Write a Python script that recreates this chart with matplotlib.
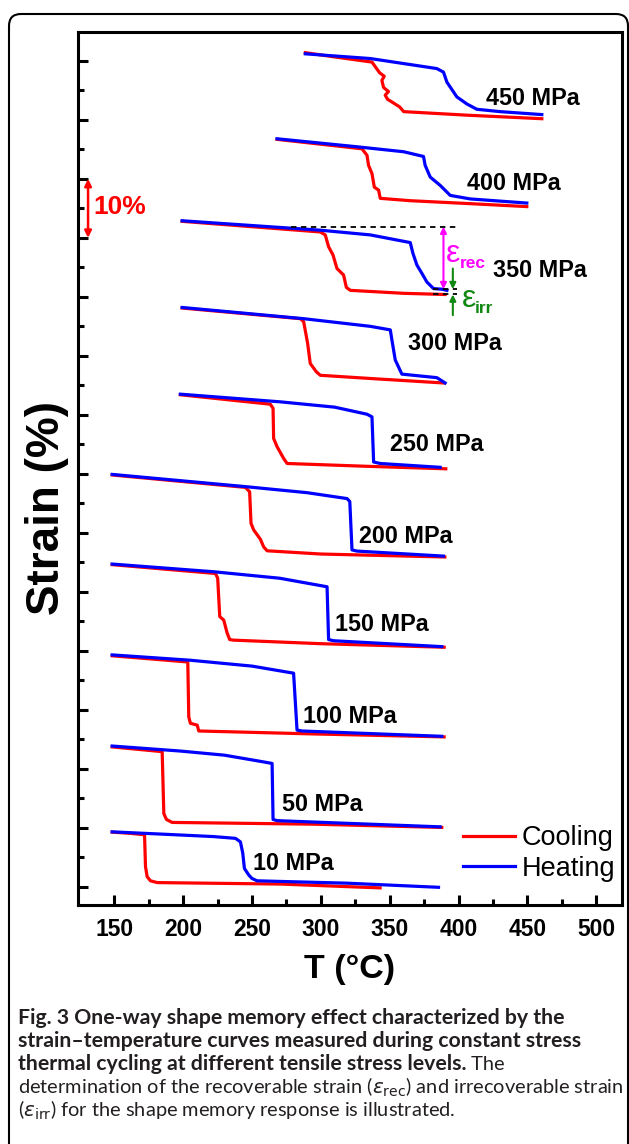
import numpy as np
import matplotlib
matplotlib.use('Agg')
import matplotlib.pyplot as plt
from matplotlib.patches import FancyBboxPatch

# heating (blue) / cooling (red) curves, T in degC, strain in % (curves offset vertically)
heat_10_T = [148.5, 186, 222, 238, 241.6, 243.3, 244.5, 247.6, 250, 253.7, 319, 385.4]
heat_10_e = [9.3, 8.9, 8.5, 8.2, 7.6, 5.7, 3.1, 2.0, 1.4, 1.0, 0.6, -0.1]
cool_10_T = [343, 270.6, 181.2, 176.3, 173.9, 172.7, 172, 161.8, 148.5]
cool_10_e = [-0.2, 0.45, 0.7, 1.0, 1.7, 3.4, 8.8, 9.05, 9.25]

heat_50_T = [148.5, 198, 230, 253.7, 264.6, 265.3, 268.2, 386.6]
heat_50_e = [23.85, 23.0, 22.3, 21.35, 20.9, 11.4, 11.2, 10.15]
cool_50_T = [387.8, 294.7, 192, 187.9, 186, 184.8, 148.5]
cool_50_e = [10.05, 10.6, 10.9, 11.4, 12.4, 22.9, 23.7]

heat_100_T = [148.5, 205, 250, 280.2, 282.7, 286.3, 387.8]
heat_100_e = [39.3, 38.4, 37.4, 36.2, 26.55, 26.4, 25.5]
cool_100_T = [389.5, 294.7, 211.4, 210.2, 205.3, 204.1, 203.4, 148.5]
cool_100_e = [25.4, 25.9, 26.4, 27.4, 27.7, 28.8, 38.1, 39.15]

heat_150_T = [148.5, 222, 270, 304.5, 305.6, 309.2, 387.8]
heat_150_e = [54.7, 53.4, 52.3, 50.85, 41.9, 41.7, 40.7]
cool_150_T = [389.5, 300, 236.7, 233.8, 231.9, 229.5, 226.6, 225.1, 223.5, 148.5]
cool_150_e = [40.6, 41.2, 41.8, 41.9, 43.05, 45.2, 45.8, 52.3, 53.1, 54.6]

heat_200_T = [148.5, 246.4, 290, 319, 321, 322.6, 326.2, 389]
heat_200_e = [69.9, 67.8, 66.8, 65.8, 65.3, 57.1, 56.9, 56.05]
cool_200_T = [390, 300, 261, 258.5, 256.1, 251.2, 249.3, 248.3, 245.2, 148.5]
cool_200_e = [55.9, 56.4, 56.95, 57.6, 58.9, 60.5, 61.6, 66.95, 67.7, 69.8]

heat_250_T = [198, 270.6, 310, 333.5, 337.1, 338.3, 343.1, 386.6]
heat_250_e = [83.5, 82.2, 81.3, 80.1, 79.65, 72.0, 71.75, 71.1]
cool_250_T = [390.7, 330, 275.5, 273, 268.2, 265.7, 265.3, 263.3, 198]
cool_250_e = [70.85, 71.3, 71.75, 72.6, 74.6, 76.0, 81.1, 81.8, 83.4]

heat_300_T = [199.3, 287.5, 335.9, 350.4, 351.6, 354, 358.8, 384.2, 390.2]
heat_300_e = [98.2, 96.3, 95.0, 94.4, 92.65, 89.3, 86.9, 86.3, 85.4]
cool_300_T = [389, 340, 299.6, 296.7, 292.3, 290.4, 287.5, 285.1, 199.3]
cool_300_e = [85.4, 86.1, 86.7, 87.3, 88.7, 92.1, 95.8, 96.3, 98.1]

heat_350_T = [199.3, 299.6, 335.9, 364.9, 366.8, 369.7, 373.3, 377, 381.8, 387.8, 391.5]
heat_350_e = [112.9, 111.3, 110.5, 109.2, 107.4, 105.4, 104.0, 102.5, 101.4, 101.3, 101.1]
cool_350_T = [390.2, 360.1, 321.4, 318.5, 316.5, 311.7, 308.8, 305.6, 303.2, 299.6, 199.3]
cool_350_e = [100.4, 100.6, 101.1, 101.6, 103.7, 104.8, 107.1, 108.5, 110.5, 111.0, 112.8]

heat_400_T = [268.2, 323.8, 360.1, 374.5, 375.7, 379.4, 386.6, 393.9, 408.4, 449.5]
heat_400_e = [126.8, 125.5, 124.6, 123.8, 122.3, 120.3, 118.9, 117.2, 116.6, 115.9]
cool_400_T = [449.5, 408.4, 364.9, 343.1, 341.9, 338.8, 337.1, 334.6, 333.5, 329.8, 268.2]
cool_400_e = [115.3, 115.8, 116.3, 116.7, 118.1, 118.6, 120.9, 122.3, 124.0, 125.1, 126.7]

heat_450_T = [288.7, 335.9, 384.2, 389, 391.5, 398.7, 406, 413.2, 430.1, 460.4]
heat_450_e = [141.2, 140.4, 138.7, 138.1, 136.4, 133.9, 132.7, 131.8, 131.4, 130.9]
cool_450_T = [460.4, 406, 360.1, 357.2, 348.4, 346.7, 349.1, 345.5, 344.3, 346, 342.6, 337.1, 309.2, 288.7]
cool_450_e = [130.2, 130.8, 131.4, 132.2, 133.5, 134.2, 134.8, 135.5, 136.7, 137.4, 138.0, 139.8, 140.7, 141.4]

stress_labels = ['10 MPa', '50 MPa', '100 MPa', '150 MPa', '200 MPa',
                 '250 MPa', '300 MPa', '350 MPa', '400 MPa', '450 MPa']
label_T = [251, 272, 287, 310.5, 327.5, 350.5, 363.5, 425, 406, 420]
label_e = [4.0, 13.9, 28.8, 44.4, 59.3, 74.9, 92.1, 104.5, 119.2, 133.7]

# 350 MPa strain levels for the eps_rec / eps_irr construction
eps_top = 111.9
eps_mid = heat_350_e[-2]
eps_bot = cool_350_e[0]

heats = [(heat_10_T, heat_10_e), (heat_50_T, heat_50_e), (heat_100_T, heat_100_e),
         (heat_150_T, heat_150_e), (heat_200_T, heat_200_e), (heat_250_T, heat_250_e),
         (heat_300_T, heat_300_e), (heat_350_T, heat_350_e), (heat_400_T, heat_400_e),
         (heat_450_T, heat_450_e)]
cools = [(cool_10_T, cool_10_e), (cool_50_T, cool_50_e), (cool_100_T, cool_100_e),
         (cool_150_T, cool_150_e), (cool_200_T, cool_200_e), (cool_250_T, cool_250_e),
         (cool_300_T, cool_300_e), (cool_350_T, cool_350_e), (cool_400_T, cool_400_e),
         (cool_450_T, cool_450_e)]

plt.rcParams['font.family'] = ['Liberation Sans', 'DejaVu Sans']
RED = '#ff0000'
BLUE = '#0000ff'

fig = plt.figure(figsize=(6.29, 11.44), dpi=100)
ax = fig.add_axes([78/629, 1-905/1144, 544/629, 873/1144])

for (ct, ce), (ht, he) in zip(cools, heats):
    ax.plot(ct, ce, color=RED, lw=2.3, solid_joinstyle='round')
    ax.plot(ht, he, color=BLUE, lw=2.3, solid_joinstyle='round')
# legend handles
ax.plot([], [], color=RED, lw=2.3, label='Cooling')
ax.plot([], [], color=BLUE, lw=2.3, label='Heating')

for lab, x, y in zip(stress_labels, label_T, label_e):
    ax.text(x, y, lab, fontsize=16.8, fontweight='bold', va='center', ha='left')

ax.set_xlim(123.7, 518.6)
ax.set_ylim(-3.1, 144.9)
ax.set_xticks(np.arange(150, 501, 50))
ax.set_xticks(np.arange(175, 501, 50), minor=True)
ax.set_yticks(np.arange(0, 141, 10))
ax.set_yticks(np.arange(5, 141, 10), minor=True)
ax.set_yticklabels([])
ax.tick_params(which='both', direction='in', width=2.2)
ax.tick_params(which='major', length=7.5)
ax.tick_params(which='minor', length=4.5)
ax.tick_params(axis='x', labelsize=16.5, pad=9)
for lb in ax.get_xticklabels():
    lb.set_fontweight('bold')
for s in ax.spines.values():
    s.set_linewidth(2.2)

ax.set_xlabel('T (°C)', fontsize=24.5, fontweight='bold', labelpad=10)
ax.set_ylabel('Strain (%)', fontsize=33, fontweight='bold')
ax.yaxis.set_label_coords(-0.016, 0.455)

# 10 % scale bar
ax.annotate('', xy=(131, 120), xytext=(131, 110),
            arrowprops=dict(arrowstyle='<|-|>', color=RED, lw=1.8,
                            mutation_scale=10, shrinkA=0, shrinkB=0))
ax.text(135, 115.2, '10%', color=RED, fontsize=19, fontweight='bold', va='center')

# eps_rec / eps_irr construction on the 350 MPa loop
ax.plot([278, 398.7], [eps_top, eps_top], color='black', lw=1.3, ls=(0, (3, 2.5)))
ax.plot([381.6, 398.7], [eps_mid, eps_mid], color='black', lw=1.3, ls=(0, (3, 2.5)))
ax.plot([381.6, 398.7], [eps_bot, eps_bot], color='black', lw=1.3, ls=(0, (3, 2.5)))
ax.annotate('', xy=(389, eps_top), xytext=(389, eps_mid),
            arrowprops=dict(arrowstyle='<|-|>', color='#ff00ff', lw=1.5,
                            mutation_scale=9, shrinkA=0, shrinkB=0))
ax.annotate('', xy=(395.8, eps_mid), xytext=(395.8, 104.8),
            arrowprops=dict(arrowstyle='-|>', color='#118811', lw=1.5,
                            mutation_scale=9, shrinkA=0, shrinkB=0))
ax.annotate('', xy=(395.8, eps_bot), xytext=(395.8, 96.9),
            arrowprops=dict(arrowstyle='-|>', color='#118811', lw=1.5,
                            mutation_scale=9, shrinkA=0, shrinkB=0))
ax.text(391, 107.2, 'ε', color='#ff00ff', fontsize=23, va='center', ha='left')
ax.text(400.8, 105.6, 'rec', color='#ff00ff', fontsize=12.5, fontweight='bold', va='center')
ax.text(402, 99.7, 'ε', color='#118811', fontsize=23, va='center', ha='left')
ax.text(411.8, 98.1, 'irr', color='#118811', fontsize=12.5, fontweight='bold', va='center')

leg = ax.legend(loc='center left', bbox_to_anchor=(0.708, 0.059), frameon=False,
                fontsize=19.5, handlelength=1.9, handletextpad=0.25, labelspacing=0.15,
                borderpad=0, borderaxespad=0)

# outer rounded border
box = FancyBboxPatch((0.09, -0.5), 6.19, 11.8, boxstyle='round,pad=0,rounding_size=0.12',
                     transform=fig.dpi_scale_trans, fill=False, lw=1.5, ec='black')
fig.patches.append(box)

# caption
cap_font = ['Lato', 'DejaVu Sans']
bold_size = 15.3
reg_size = 14.4
x0 = 18/629
ys = [1018, 1041, 1064, 1087, 1110]
bold_lines = ['Fig. 3 One-way shape memory effect characterized by the',
              'strain\u2013temperature curves measured during constant stress',
              'thermal cycling at different tensile stress levels.']
for yy, s in zip(ys[:3], bold_lines):
    t = fig.text(x0, 1-yy/1144, s, fontsize=bold_size, fontweight='bold',
                 family=cap_font, va='center', ha='left', color='#231f20')
renderer = fig.canvas.get_renderer()
bb = t.get_window_extent(renderer)
fig.text(bb.x1/fig.bbox.width, 1-ys[2]/1144, ' The', fontsize=reg_size,
         family=cap_font, va='center', ha='left', color='#231f20')
fig.text(x0, 1-ys[3]/1144,
         r'determination of the recoverable strain ($\varepsilon_{\rm rec}$) and irrecoverable strain',
         fontsize=reg_size, family=cap_font, va='center', ha='left', color='#231f20')
fig.text(x0, 1-ys[4]/1144,
         r'($\varepsilon_{\rm irr}$) for the shape memory response is illustrated.',
         fontsize=reg_size, family=cap_font, va='center', ha='left', color='#231f20')

fig.savefig('out.png', dpi=100)
